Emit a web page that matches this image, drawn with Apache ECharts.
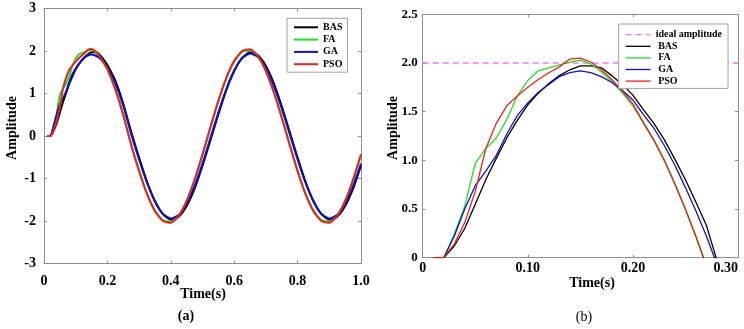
<!DOCTYPE html>
<html>
<head>
<meta charset="utf-8">
<script src="https://cdn.jsdelivr.net/npm/echarts@6/dist/echarts.min.js"></script>
<style>
  html, body { margin: 0; padding: 0; background: #fff; }
  #chart { width: 744px; height: 329px; }
</style>
</head>
<body>
<div id="chart"></div>
<script>
// series names
const names = ['BAS', 'FA', 'GA', 'PSO'];
const colors = ['#000000', '#1fe01f', '#1010c8', '#ee2020'];

// (b) zoomed first half-period, read at 0.01 s steps
const bTime = [0.01,0.02,0.03,0.04,0.05,0.06,0.07,0.08,0.09,0.10,0.11,0.12,0.13,0.14,
  0.15,0.16,0.17,0.18,0.19,0.20,0.21,0.22,0.23,0.24,0.25,0.26,0.27,0.28];
const bBAS = [0,0,0.12,0.30,0.55,0.80,1.02,1.23,1.41,1.57,1.69,1.79,1.87,1.93,
  1.97,1.97,1.95,1.87,1.78,1.67,1.52,1.38,1.21,1.01,0.80,0.57,0.33,-0.03];
const bFA = [0,0,0.24,0.53,0.97,1.12,1.23,1.42,1.66,1.82,1.92,1.95,1.98,2.01,
  2.03,1.99,1.91,1.81,1.69,1.56,1.38,1.20,0.99,0.75,0.49,0.21,-0.10,-0.38];
const bGA = [0,0,0.22,0.50,0.74,0.89,1.05,1.27,1.46,1.59,1.70,1.78,1.86,1.90,
  1.92,1.90,1.86,1.80,1.72,1.62,1.47,1.33,1.15,0.95,0.72,0.48,0.22,-0.07];
const bPSO = [0,0,0.14,0.36,0.68,1.12,1.38,1.56,1.66,1.75,1.83,1.90,1.96,2.04,
  2.05,2.01,1.93,1.83,1.71,1.58,1.39,1.21,1.00,0.76,0.50,0.22,-0.08,-0.36];
const idealTime = [0, 0.3];
const idealAmp = [2.0, 2.0];

// (a) rest of the response, read at 0.025 s steps (start taken from (b) up to 0.19 s)
const aTailTime = [0.200,0.225,0.250,0.275,0.300,0.325,0.350,0.375,0.400,0.425,0.450,
  0.475,0.500,0.525,0.550,0.575,0.600,0.625,0.650,0.675,0.700,0.725,0.750,0.775,
  0.800,0.825,0.850,0.875,0.900,0.925,0.950,0.975,1.000];
const aBAS = [1.67,1.30,0.76,0.10,-0.51,-1.08,-1.53,-1.84,-1.97,-1.90,-1.65,-1.24,-0.70,
  -0.10,0.51,1.08,1.53,1.84,1.97,1.90,1.65,1.24,0.70,0.10,-0.51,-1.08,-1.53,-1.84,
  -1.97,-1.90,-1.65,-1.24,-0.70];
const aFA = [1.56,1.09,0.49,-0.20,-0.81,-1.35,-1.75,-1.98,-2.02,-1.87,-1.52,-1.03,-0.44,
  0.20,0.82,1.35,1.75,1.98,2.02,1.87,1.52,1.03,0.44,-0.20,-0.82,-1.35,-1.75,-1.98,
  -2.02,-1.87,-1.52,-1.03,-0.44];
const aGA = [1.62,1.24,0.72,0.05,-0.55,-1.10,-1.54,-1.83,-1.94,-1.86,-1.60,-1.18,-0.65,
  -0.05,0.55,1.10,1.54,1.83,1.94,1.86,1.60,1.18,0.65,0.05,-0.55,-1.10,-1.54,-1.83,
  -1.94,-1.86,-1.60,-1.18,-0.65];
const aPSO = [1.58,1.10,0.50,-0.21,-0.83,-1.37,-1.77,-2.00,-2.04,-1.88,-1.53,-1.03,-0.43,
  0.21,0.83,1.37,1.77,2.00,2.04,1.88,1.53,1.03,0.43,-0.21,-0.83,-1.37,-1.77,-2.00,
  -2.04,-1.88,-1.53,-1.03,-0.43];

const bVals = [bBAS, bFA, bGA, bPSO];
const aVals = [aBAS, aFA, aGA, aPSO];

const zip = (xs, ys) => xs.map((x, i) => [x, ys[i]]);
const headN = 19; // 0.01 .. 0.19

const serif = "'Liberation Serif', 'DejaVu Serif', 'Times New Roman', serif";
const axisGrey = '#8f8f8f';

function mkAxis(grid, pos, min, max, itv, showLab, fmt, margin, size) {
  return {
    type: 'value', gridIndex: grid, position: pos, min: min, max: max, interval: itv,
    axisLine: { show: true, onZero: false, lineStyle: { color: axisGrey, width: 1 } },
    axisTick: { show: true, inside: true, length: 3, lineStyle: { color: axisGrey } },
    splitLine: { show: false },
    axisLabel: { show: showLab, formatter: fmt, margin: margin, color: '#000',
      fontFamily: serif, fontWeight: 'bold', fontSize: size || 14 }
  };
}

const xAxes = [
  mkAxis(0, 'bottom', 0, 1, 0.2, true, v => v === 0 ? '0' : v.toFixed(1), 11),
  mkAxis(1, 'bottom', 0, 0.3, 0.1, true, v => v === 0 ? '0' : v.toFixed(2), 4),
  mkAxis(0, 'top', 0, 1, 0.2, false),
  mkAxis(1, 'top', 0, 0.3, 0.1, false)
];
xAxes[1].axisLabel.alignMaxLabel = 'right';
const yAxes = [
  mkAxis(0, 'left', -3, 3, 1, true, v => String(v), 8),
  mkAxis(1, 'left', 0, 2.5, 0.5, true, v => v === 0 ? '0' : v.toFixed(1), 5, 13),
  mkAxis(0, 'right', -3, 3, 1, false),
  mkAxis(1, 'right', 0, 2.5, 0.5, false)
];

const series = [];
names.forEach((n, i) => {
  const head = zip(bTime.slice(0, headN), bVals[i].slice(0, headN));
  series.push({
    name: n, type: 'line', xAxisIndex: 0, yAxisIndex: 0, symbol: 'none', smooth: 0.2,
    lineStyle: { color: colors[i], width: 2 }, itemStyle: { color: colors[i] },
    data: head.concat(zip(aTailTime, aVals[i]))
  });
});
series.push({
  name: 'ideal amplitude', type: 'line', xAxisIndex: 1, yAxisIndex: 1, symbol: 'none',
  lineStyle: { color: '#f07cf0', width: 1.3, type: [6, 4] }, itemStyle: { color: '#f07cf0' },
  data: zip(idealTime, idealAmp)
});
names.forEach((n, i) => {
  series.push({
    name: n, type: 'line', xAxisIndex: 1, yAxisIndex: 1, symbol: 'none',
    lineStyle: { color: colors[i], width: 1.3 }, itemStyle: { color: colors[i] },
    data: zip(bTime, bVals[i])
  });
});

const legTxt = { color: '#000', fontFamily: serif, fontWeight: 'bold', fontSize: 10 };

const chart = echarts.init(document.getElementById('chart'), null, { renderer: 'canvas' });
chart.setOption({
  animation: false,
  backgroundColor: '#fff',
  grid: [
    { left: 44, top: 8.5, width: 317, height: 255 },
    { left: 422.7, top: 14.3, width: 315.3, height: 243.4 }
  ],
  xAxis: xAxes,
  yAxis: yAxes,
  legend: [
    {
      left: 287, top: 18.3, orient: 'vertical', data: names,
      itemWidth: 24, itemHeight: 8, itemGap: 0.3, padding: [3, 5, 2, 6],
      borderColor: '#a0a0a0', borderWidth: 1, backgroundColor: '#fff',
      itemStyle: { opacity: 0 },
      lineStyle: { width: 2 },
      textStyle: Object.assign({ lineHeight: 12 }, legTxt)
    },
    {
      left: 618.7, top: 24, orient: 'vertical', data: ['ideal amplitude'].concat(names),
      itemWidth: 25, itemHeight: 8, itemGap: 0, padding: [4.9, 6, 1.5, 6.3],
      borderColor: '#a0a0a0', borderWidth: 1, backgroundColor: '#fff',
      itemStyle: { opacity: 0 },
      lineStyle: { width: 1.3 },
      formatter: n => n === 'ideal amplitude' ? n : ' ' + n,
      textStyle: Object.assign({ lineHeight: 11.6 }, legTxt)
    }
  ],
  graphic: [
    { type: 'text', x: 12, y: 128, rotation: Math.PI / 2,
      style: { text: 'Amplitude', fill: '#000', font: 'bold 14px ' + serif, align: 'center', verticalAlign: 'middle' } },
    { type: 'text', x: 393, y: 128, rotation: Math.PI / 2,
      style: { text: 'Amplitude', fill: '#000', font: 'bold 14px ' + serif, align: 'center', verticalAlign: 'middle' } },
    { type: 'text', x: 203, y: 294,
      style: { text: 'Time(s)', fill: '#000', font: 'bold 14px ' + serif, align: 'center', verticalAlign: 'middle' } },
    { type: 'text', x: 592, y: 283,
      style: { text: 'Time(s)', fill: '#000', font: 'bold 14px ' + serif, align: 'center', verticalAlign: 'middle' } },
    { type: 'text', x: 186, y: 316,
      style: { text: '(a)', fill: '#000', font: 'bold 14px ' + serif, align: 'center', verticalAlign: 'middle' } },
    { type: 'text', x: 584, y: 317,
      style: { text: '(b)', fill: '#000', font: '14px ' + serif, align: 'center', verticalAlign: 'middle' } }
  ],
  series: series
});
</script>
</body>
</html>
